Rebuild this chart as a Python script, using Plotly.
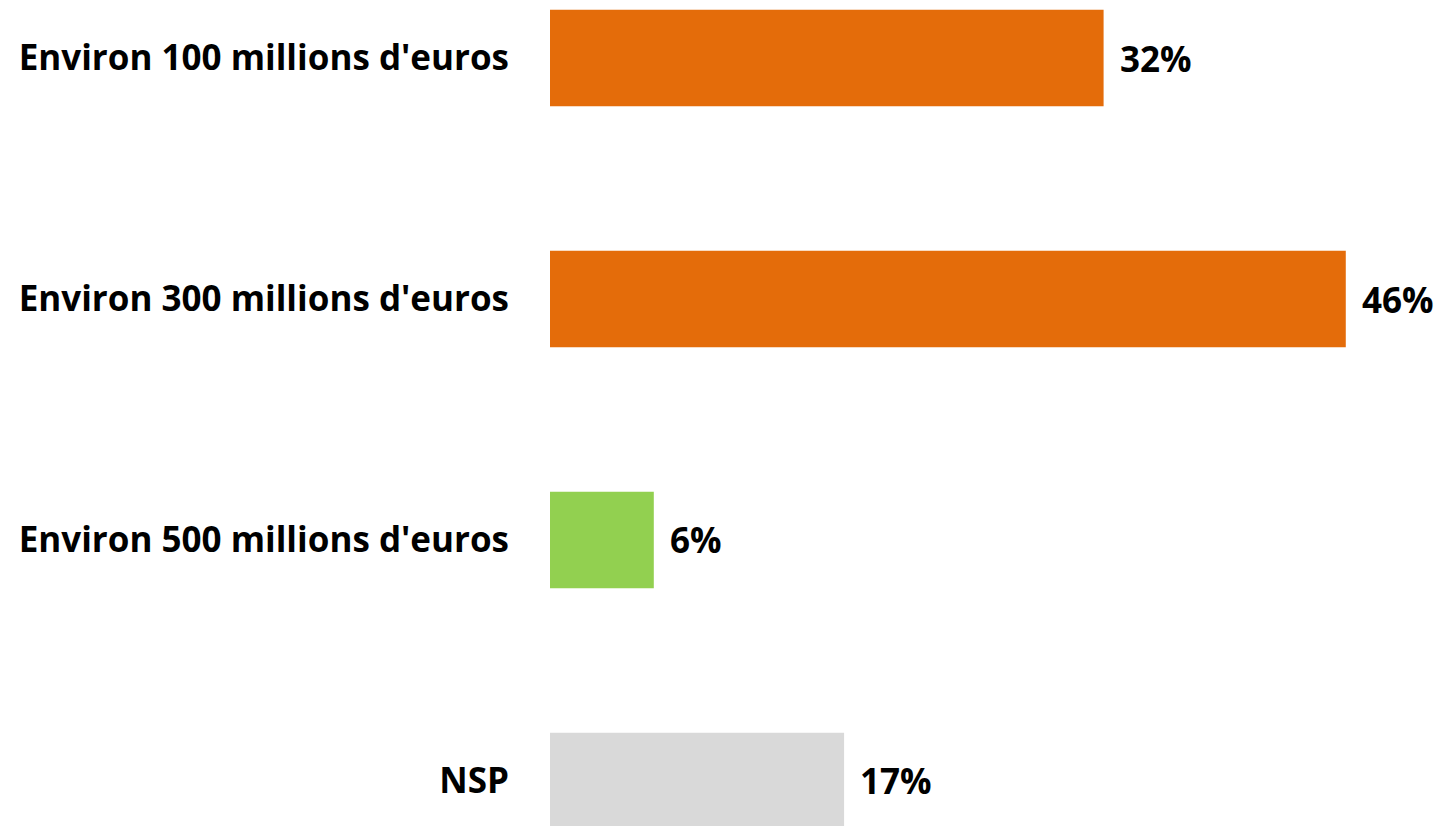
import plotly.graph_objects as go

categories = ["Environ 100 millions d'euros", "Environ 300 millions d'euros",
              "Environ 500 millions d'euros", "NSP"]
values = [32, 46, 6, 17]
labels = ["32%", "46%", "6%", "17%"]
colors = ["#E46C0A", "#E46C0A", "#92D050", "#D9D9D9"]

FONT = "Open Sans"

fig = go.Figure()
fig.add_trace(go.Bar(
    x=values, y=categories, orientation="h",
    marker=dict(color=colors, line=dict(width=0)),
    hoverinfo="skip",
))

for c, v, t in zip(categories, values, labels):
    fig.add_annotation(x=v, y=c, text="<b>%s</b>" % t, showarrow=False,
                       xanchor="left", yanchor="middle", xshift=14,
                       font=dict(family=FONT, size=35, color="black"))

fig.update_layout(
    width=1444, height=826,
    margin=dict(l=542, r=0, t=0, b=0),
    paper_bgcolor="white", plot_bgcolor="white",
    bargap=0.6, showlegend=False,
)
fig.update_xaxes(range=[0, 52.14], visible=False)
fig.update_yaxes(
    categoryorder="array", categoryarray=categories,
    range=[3.22, -0.2075],
    showgrid=False, zeroline=False, showline=False, ticks="",
    ticklabelstandoff=40,
    tickfont=dict(family=FONT, size=35, color="black", weight="bold"),
)

fig.write_html("out.html")
